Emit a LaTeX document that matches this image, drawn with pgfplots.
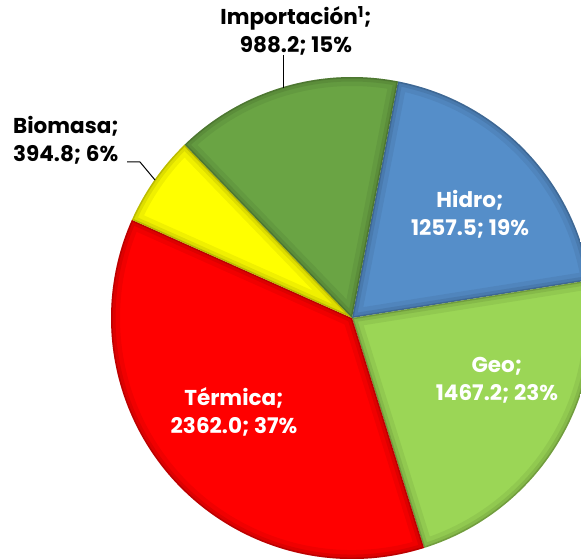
\documentclass[border=0pt]{standalone}
\usepackage{fontspec}
\setmainfont{Poppins}
\usepackage{pgfplots}
\usepackage{pgfplotstable}
\pgfplotsset{compat=1.18}

\definecolor{hidro}{RGB}{85,142,201}
\definecolor{geo}{RGB}{155,214,86}
\definecolor{termica}{RGB}{255,0,0}
\definecolor{biomasa}{RGB}{255,255,0}
\definecolor{importc}{RGB}{106,164,68}

% generation by source
\pgfplotstableread{
label value
Hidro 1257.5
Geo 1467.2
Termica 2362.0
Biomasa 394.8
Importacion 988.2
}\pietable

% one slice: start angle, end angle, colour
\newcommand\pieslice[3]{%
  \begin{scope}
    \clip (axis cs:352,240) -- ++(#1:241pt) arc[start angle=#1,end angle=#2,radius=241pt] -- cycle;
    \fill[#3] (axis cs:352,240) circle[radius=260pt];
    \draw[black,opacity=0.06,line width=18pt] (axis cs:352,240) -- ++(#1:241pt) arc[start angle=#1,end angle=#2,radius=241pt] -- cycle;
    \draw[black,opacity=0.08,line width=9pt] (axis cs:352,240) -- ++(#1:241pt) arc[start angle=#1,end angle=#2,radius=241pt] -- cycle;
    \draw[black,opacity=0.15,line width=3pt] (axis cs:352,240) -- ++(#1:241pt) arc[start angle=#1,end angle=#2,radius=241pt] -- cycle;
  \end{scope}}

\begin{document}
\begin{tikzpicture}
\pgfplotstablegetelem{0}{value}\of\pietable \let\vA\pgfplotsretval
\pgfplotstablegetelem{1}{value}\of\pietable \let\vB\pgfplotsretval
\pgfplotstablegetelem{2}{value}\of\pietable \let\vC\pgfplotsretval
\pgfplotstablegetelem{3}{value}\of\pietable \let\vD\pgfplotsretval
\pgfplotstablegetelem{4}{value}\of\pietable \let\vE\pgfplotsretval
\pgfmathsetmacro\total{\vA+\vB+\vC+\vD+\vE}
\pgfmathsetmacro\aA{79}
\pgfmathsetmacro\aB{\aA-360*(\vA/\total)}
\pgfmathsetmacro\aC{\aB-360*(\vB/\total)}
\pgfmathsetmacro\aD{\aC-360*(\vC/\total)}
\pgfmathsetmacro\aE{\aD-360*(\vD/\total)}
\pgfmathsetmacro\aF{\aA-360}
\begin{axis}[
  name=ax,
  scale only axis,
  width=581pt, height=558pt,
  xmin=0, xmax=581, ymin=0, ymax=558,
  hide axis,
]
\pieslice{\aA}{\aB}{hidro}
\pieslice{\aB}{\aC}{geo}
\pieslice{\aC}{\aD}{termica}
\pieslice{\aD}{\aE}{biomasa}
\pieslice{\aE}{\aF}{importc}

\tikzset{lbl/.style={font=\fontsize{21.5}{28}\selectfont\bfseries, align=center, inner sep=0pt}}
\node[lbl, white] at (axis cs:470,344) {Hidro;\\1257.5; 19\%};
\node[lbl, white] at (axis cs:497,178) {Geo;\\1467.2; 23\%};
\node[lbl, white] at (axis cs:234,146) {Térmica;\\2362.0; 37\%};
\node[lbl, black] at (axis cs:296,527) {Importación\textsuperscript{1};\\988.2; 15\%};
\node[lbl, black, align=left, anchor=west] at (axis cs:13,417.5) {Biomasa;\\394.8; 6\%};

\draw[black, line width=1pt] (axis cs:283,503) -- (axis cs:283,470);
\draw[black, line width=1pt] (axis cs:127,396) -- (axis cs:140,396) -- (axis cs:155,378);
\end{axis}
\pgfresetboundingbox
\useasboundingbox (ax.south west) rectangle (ax.north east);
\end{tikzpicture}
\end{document}
